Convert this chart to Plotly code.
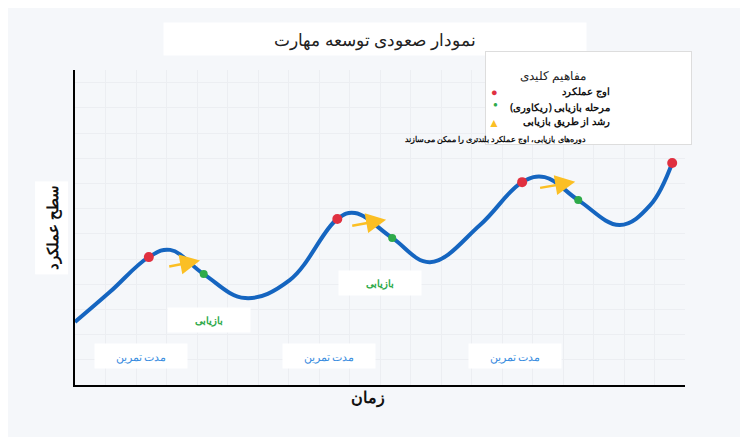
import plotly.graph_objects as go

curve_x = [0, 5.7, 12.1, 15.6, 21.1, 27.9, 35.2, 43.0, 45.9, 52.0, 58.2, 66.4, 73.3, 77.0, 82.5, 89.3, 94.3, 97.9]
curve_y = [20, 29.5, 40.6, 42.9, 35.2, 27.6, 33.3, 52.7, 54.6, 46.7, 39.0, 50.8, 64.4, 66.0, 58.7, 50.8, 57.1, 70.5]
peak_idx = [2, 7, 12, 17]
recovery_idx = [4, 9, 14]
arrow_start = [(15.2, 37.5), (45.2, 50.5), (76.0, 62.5)]
arrow_end = [(20.5, 39.5), (51.0, 52.5), (82.0, 64.5)]
practice_labels = [(10.8, 9.2), (41.6, 9.2), (72.1, 9.2)]
recovery_labels = [(21.9, 20.6), (50.0, 32.4)]

fig = go.Figure()
fig.add_trace(go.Scatter(x=curve_x, y=curve_y, mode="lines", line=dict(color="#1565c0", width=4, shape="spline", smoothing=1.1), hoverinfo="skip"))
fig.add_trace(go.Scatter(x=[curve_x[i] for i in peak_idx], y=[curve_y[i] for i in peak_idx], mode="markers", marker=dict(color="#e03040", size=10)))
fig.add_trace(go.Scatter(x=[curve_x[i] for i in recovery_idx], y=[curve_y[i] for i in recovery_idx], mode="markers", marker=dict(color="#2eaa4a", size=8)))

ann = []
for (sx, sy), (ex, ey) in zip(arrow_start, arrow_end):
    ann.append(dict(x=ex, y=ey, ax=sx, ay=sy, xref="x", yref="y", axref="x", ayref="y", showarrow=True,
                    arrowhead=2, arrowsize=1.6, arrowwidth=2.5, arrowcolor="#fbbf24", text=""))
for (x, y) in practice_labels:
    ann.append(dict(x=x, y=y, xref="x", yref="y", text="مدت تمرین", showarrow=False, bgcolor="white",
                    font=dict(color="#3a8de0", size=11, family="Noto Sans"), width=90, height=22))
for (x, y) in recovery_labels:
    ann.append(dict(x=x, y=y, xref="x", yref="y", text="<b>بازیابی</b>", showarrow=False, bgcolor="white",
                    font=dict(color="#2eaa4a", size=10, family="Noto Sans"), width=80, height=22))
ann.append(dict(x=0.492, y=1.152, xref="paper", yref="paper", text="نمودار صعودی توسعه مهارت", showarrow=False,
                bgcolor="white", width=420, height=30, font=dict(size=17, color="#222", family="Noto Sans")))
ann.append(dict(x=0.48, y=-0.079, xref="paper", yref="paper", text="<b>زمان</b>", showarrow=False,
                font=dict(size=16, color="#111", family="Noto Sans")))
ann.append(dict(x=-0.066, y=0.498, xref="paper", yref="paper", text="<b>سطح عملکرد</b>", showarrow=False, textangle=-90,
                bgcolor="white", width=90, height=30, font=dict(size=15, color="#111", family="Noto Sans")))
ann.append(dict(x=0.841, y=0.911, xref="paper", yref="paper", xanchor="center", yanchor="middle", text="", showarrow=False,
                bgcolor="white", bordercolor="#dddddd", borderwidth=1, width=203, height=90))
ann.append(dict(x=0.841, y=1.016, xref="paper", yref="paper", showarrow=False,
                text="مفاهیم کلیدی", font=dict(size=12, color="#222", family="Noto Sans")))
leg_rows = [("<b>اوج عملکرد</b>", 0.962), ("<b>مرحله بازیابی (ریکاوری)</b>", 0.911), ("<b>رشد از طریق بازیابی</b>", 0.868)]
for t, y in leg_rows:
    ann.append(dict(x=0.88, y=y, xref="paper", yref="paper", xanchor="right", showarrow=False, text=t,
                    font=dict(size=10, color="#111", family="Noto Sans")))
ann.append(dict(x=0.841, y=0.805, xref="paper", yref="paper", showarrow=False,
                text="<b>دوره‌های بازیابی، اوج عملکرد بلندتری را ممکن می‌سازند</b>", font=dict(size=8, color="#111", family="Noto Sans")))
ann.append(dict(x=0.697, y=0.962, xref="paper", yref="paper", showarrow=False, text="●", font=dict(size=11, color="#e03040")))
ann.append(dict(x=0.697, y=0.918, xref="paper", yref="paper", showarrow=False, text="●", font=dict(size=8, color="#2eaa4a")))
ann.append(dict(x=0.70, y=0.868, xref="paper", yref="paper", showarrow=False, text="▲", font=dict(size=12, color="#fbbf24")))

fig.update_layout(
    width=748, height=437, showlegend=False, annotations=ann,
    paper_bgcolor="#f5f7fa", plot_bgcolor="#f5f7fa",
    margin=dict(l=67, r=71, t=62, b=60),
    xaxis=dict(range=[0, 100], showticklabels=False, ticks="", showgrid=True, gridcolor="#eceef2", zeroline=False,
               showline=True, linecolor="black", linewidth=2, dtick=5),
    yaxis=dict(range=[0, 100], showticklabels=False, ticks="", showgrid=True, gridcolor="#eceef2", zeroline=False,
               showline=True, linecolor="black", linewidth=2, dtick=8),
)
fig.write_html("out.html")
